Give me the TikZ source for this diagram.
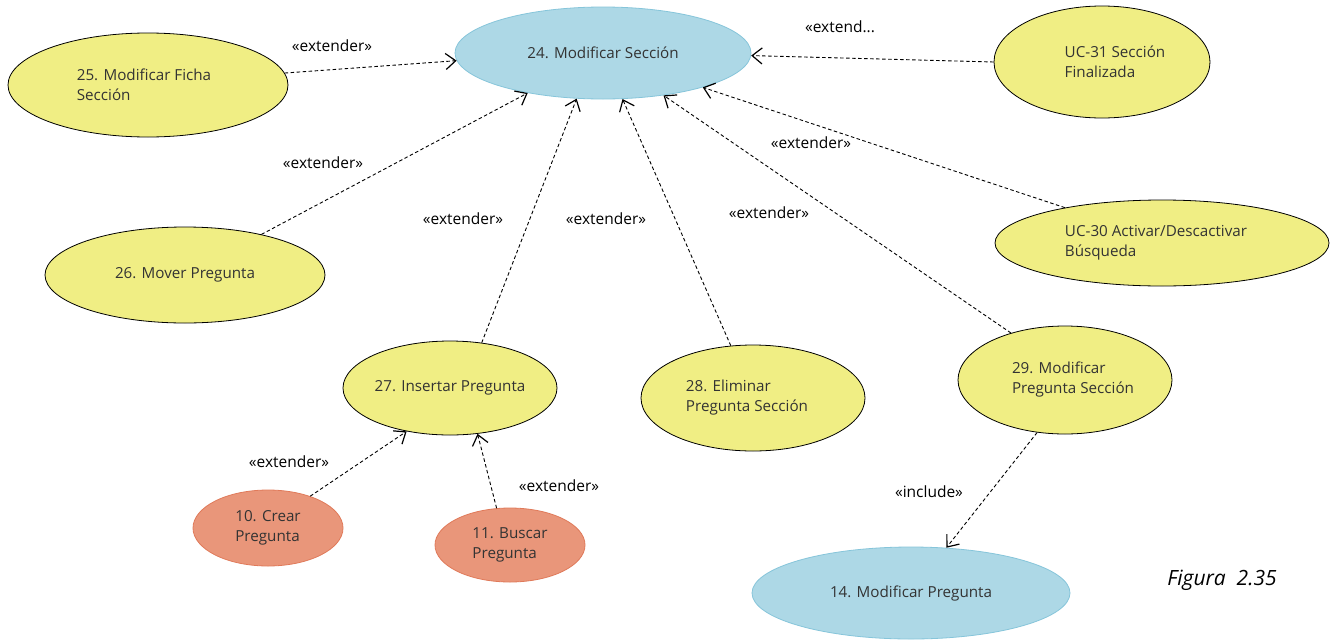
\documentclass[tikz,border=0pt]{standalone}
\usepackage{fontspec}
\setmainfont{Open Sans}
\usetikzlibrary{shapes.geometric,arrows.meta}
\definecolor{ucyellow}{HTML}{F0EE84}
\definecolor{ucblue}{HTML}{ADD8E6}
\definecolor{ucblueline}{HTML}{86C5DA}
\definecolor{ucsalmon}{HTML}{E9967A}
\definecolor{ucsalmonline}{HTML}{E07A5A}
\definecolor{uctext}{HTML}{333333}
\begin{document}
\begin{tikzpicture}[x=1pt,y=-1pt,
  uc/.style={ellipse, inner sep=0pt, text=uctext, font=\fontsize{15.2}{20}\selectfont, align=left},
  ucy/.style={uc, draw=black, fill=ucyellow, line width=0.8pt},
  ucb/.style={uc, draw=ucblueline, fill=ucblue, line width=0.8pt},
  ucs/.style={uc, draw=ucsalmonline, fill=ucsalmon, line width=0.8pt},
  dep/.style={draw=black, line width=0.9pt, dash pattern=on 3.5pt off 2.5pt,
    -{Straight Barb[length=10pt,width=16pt,line width=1.2pt]}},
  lbl/.style={font=\fontsize{15.5}{18}\selectfont, text=black, inner sep=0pt}
]
\useasboundingbox[fill=white] (0,0) rectangle (1340,640);

% use cases
\node[ucb, minimum width=296pt, minimum height=92pt] (u24) at (603,53) {24. Modificar Sección};
\node[ucy, minimum width=280pt, minimum height=104pt] (u25) at (148,85) {25. Modificar Ficha\hspace*{8pt}\\Sección};
\node[ucy, minimum width=280pt, minimum height=96pt] (u26) at (185,275) {26. Mover Pregunta};
\node[ucy, minimum width=214pt, minimum height=94pt] (u27) at (450,388) {27. Insertar Pregunta};
\node[ucy, minimum width=224pt, minimum height=106pt] (u28) at (753,398) {28. Eliminar\\Pregunta Sección\hspace*{12pt}};
\node[ucy, minimum width=214pt, minimum height=108pt] (u29) at (1065,380) {\hspace*{16pt}29. Modificar\\\hspace*{16pt}Pregunta Sección};
\node[ucy, minimum width=216pt, minimum height=112pt] (u31) at (1102,62) {\hspace*{26pt}UC-31 Sección\\\hspace*{26pt}Finalizada};
\node[ucy, minimum width=334pt, minimum height=86pt] (u30) at (1162,243) {UC-30 Activar/Descactivar\hspace*{12pt}\\Búsqueda};
\node[ucs, minimum width=150pt, minimum height=76pt] (u10) at (268,528) {10. Crear\\Pregunta};
\node[ucs, minimum width=150pt, minimum height=74pt] (u11) at (510,545) {11. Buscar\\Pregunta};
\node[ucb, minimum width=318pt, minimum height=92pt] (u14) at (911,593) {14. Modificar Pregunta};

% connectors
\draw[dep] (u25.5) -- (u24.183);
\draw[dep] (u26) -- (u24);
\draw[dep] (u27.55) -- (u24.240);
\draw[dep] (u28.113) -- (u24.293);
\draw[dep] (u29.139) -- (u24.325);
\draw[dep] (u30.160) -- (u24.341);
\draw[dep] (u31.180) -- (u24.-1);
\draw[dep] (u10.37) -- (u27.225);
\draw[dep] (u11.110) -- (u27.301);
\draw[dep] (u29.242) -- (u14.52);

% labels
\node[lbl] (l1) at (332,46) {«extender»};
\node[lbl] (l2) at (323,163) {«extender»};
\node[lbl] (l3) at (463,219) {«extender»};
\node[lbl] (l4) at (606,219) {«extender»};
\node[lbl] (l5) at (769,213) {«extender»};
\node[lbl] (l6) at (811,143) {«extender»};
\node[lbl] (l7) at (840,27) {«extend...};
\node[lbl] (l8) at (289,462) {«extender»};
\node[lbl] (l9) at (559,486) {«extender»};
\node[lbl] (l10) at (929,492) {«include»};

\node[font=\fontsize{21}{24}\selectfont\itshape, inner sep=0pt] (fig) at (1222,580) {Figura\ \ 2.35};
\end{tikzpicture}
\end{document}
